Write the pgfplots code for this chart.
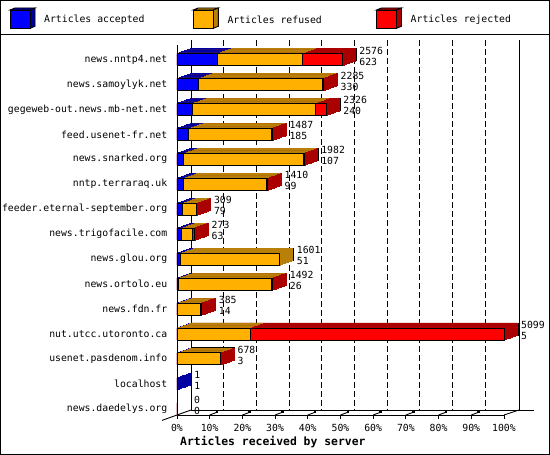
\documentclass[border=0pt]{standalone}
\usepackage{pgfplots}
\pgfplotsset{compat=1.18}
\usepackage{pgfplotstable}
\usepackage{fontspec}
\setmainfont{DejaVu Sans Mono}
\newcommand\lab{\fontsize{9.8pt}{11pt}\selectfont}
\newcommand\ttl{\fontsize{11.4pt}{13pt}\selectfont\bfseries}
\definecolor{accF}{RGB}{0,0,255}
\definecolor{accD}{RGB}{0,0,160}
\definecolor{refF}{RGB}{255,176,0}
\definecolor{refD}{RGB}{184,128,8}
\definecolor{rejF}{RGB}{255,0,0}
\definecolor{rejD}{RGB}{170,0,0}
% row: 0 = top; acc = accepted, ref = refused, rej = rejected, tot = offered
\pgfplotstableread{
row acc ref rej tot
0 623 1337 616 2576
1 330 1935 20 2285
2 240 1923 163 2326
3 185 1281 21 1487
4 107 1863 12 1982
5 99 1301 10 1410
6 79 220 10 309
7 63 185 25 273
8 51 1550 0 1601
9 26 1451 15 1492
10 14 356 15 385
11 5 1144 3950 5099
12 3 667 8 678
13 1 0 0 1
14 0 0 0 0
}\data
\pgfplotsset{
  base/.style={scale only axis, width=327pt, height=370pt,
    xmin=0, xmax=5099, ymin=-0.581, ymax=14.248, y dir=reverse,
    anchor=south west, clip=false},
  bars/.style={base, xbar, bar shift=0pt, bar width=12pt, hide axis},
  dep/.style={restrict x to domain=0.5:100000},
  deprej/.style={restrict expr to domain={\thisrow{rej}}{0.5:100000}},
}
\begin{document}
\begin{tikzpicture}[x=1pt,y=1pt]
\path[use as bounding box] (0,0) rectangle (550,455);
\fill[white] (0,0) rectangle (550,455);
% back wall grid
\begin{axis}[base, at={(191pt,45pt)},
  axis line style={draw=none}, tick style={draw=none},
  xtick={509.9,1019.8,1529.7,2039.6,2549.5,3059.4,3569.3,4079.2,4589.1},
  xticklabel style={text opacity=0, opacity=0}, ytick=\empty,
  xmajorgrids, major grid style={black, line width=0.9pt, dash pattern=on 6pt off 3pt}]
\addplot[draw=none] coordinates {(0,0)};
\end{axis}
% wall and floor frame
\begin{scope}[line width=0.9pt]
\draw (191,45) -- (191,415);
\draw (519,45) -- (519,415);
\draw (191,45) -- (534,45);
\draw (162,34.6) -- (191,45);
\draw (504,40) -- (519,45);
\foreach \k in {1,...,9} {
  \draw ({177+32.7*\k},40) -- ({177+32.7*\k+8},43);
  \fill ({177+32.7*\k+6},41.6) rectangle +(2.6,2.6);
}
\end{scope}
% depth of the bars: back face, then intermediate layers
\begin{axis}[bars, at={(191pt,45pt)}]
\addplot[deprej, fill=rejD, draw=black, line width=0.9pt] table[x=tot, y=row]{\data};
\addplot[dep, fill=refD, draw=black, line width=0.9pt] table[x expr=\thisrow{acc}+\thisrow{ref}, y=row]{\data};
\addplot[dep, fill=accD, draw=black, line width=0.9pt] table[x=acc, y=row]{\data};
\end{axis}
\foreach \t in {0.94,0.88,0.82,0.76,0.7,0.64,0.58,0.52,0.46,0.4,0.34,0.28,0.22,0.16,0.1,0.04} {
\begin{axis}[bars, at={({177pt+14pt*\t},{40pt+5pt*\t})}]
\addplot[deprej, fill=rejD, draw=rejD, line width=0.8pt, xshift=0.5pt] table[x=tot, y=row]{\data};
\addplot[dep, fill=refD, draw=refD, line width=0.8pt] table[x expr=\thisrow{acc}+\thisrow{ref}, y=row]{\data};
\addplot[dep, fill=accD, draw=accD, line width=0.8pt] table[x=acc, y=row]{\data};
\end{axis}
}
% front faces, axes and labels
\begin{axis}[base, at={(177pt,40pt)}, xbar, bar shift=0pt, bar width=12pt,
  axis x line*=bottom, axis y line*=left,
  axis line style={-, line width=0.9pt},
  xtick={0,509.9,1019.8,1529.7,2039.6,2549.5,3059.4,3569.3,4079.2,4589.1,5099},
  xticklabels={0\%,10\%,20\%,30\%,40\%,50\%,60\%,70\%,80\%,90\%,100\%},
  ytick={0,...,14},
  yticklabels={news.nntp4.net,news.samoylyk.net,gegeweb-out.news.mb-net.net,feed.usenet-fr.net,news.snarked.org,nntp.terraraq.uk,feeder.eternal-september.org,news.trigofacile.com,news.glou.org,news.ortolo.eu,news.fdn.fr,nut.utcc.utoronto.ca,usenet.pasdenom.info,localhost,news.daedelys.org},
  tick align=outside, major tick length=4pt,
  ytick style={draw=none}, xtick style={black, line width=0.9pt},
  tick label style={font=\lab},
  xticklabel style={anchor=center, inner sep=0pt, yshift=-9pt},
  yticklabel style={anchor=east, inner sep=0pt, xshift=-5.5pt},
  xlabel={Articles received by server},
  xlabel style={font=\ttl, at={(axis description cs:0,0)}, anchor=west, inner sep=0pt, xshift=3pt, yshift=-27pt},
]
\addplot[fill=rejF, draw=black, line width=0.9pt] table[x=tot, y=row]{\data};
\addplot[fill=refF, draw=black, line width=0.9pt] table[x expr=\thisrow{acc}+\thisrow{ref}, y=row]{\data};
\addplot[fill=accF, draw=black, line width=0.9pt] table[x=acc, y=row]{\data};
\addplot[draw=none, fill=none, point meta=x,
  visualization depends on={\thisrow{acc} \as \acc},
  nodes near coords={\pgfmathprintnumber[fixed,precision=0,1000 sep={},assume math mode=true]{\pgfplotspointmeta}\\\pgfmathprintnumber[fixed,precision=0,1000 sep={},assume math mode=true]{\acc}},
  every node near coord/.append style={anchor=west, align=left, inner sep=0pt,
    xshift=17pt, yshift=3.5pt, font=\lab, text=black}]
  table[x=tot, y=row]{\data};
\end{axis}
% legend
\foreach \x/\cf/\cd/\txt in {10/accF/accD/{Articles accepted},193.3/refF/refD/{Articles refused},376.5/rejF/rejD/{Articles rejected}} {
  \filldraw[fill=\cd, draw=black, line width=0.9pt] (\x,445) -- (\x+5,447) -- (\x+25,447) -- (\x+20,445) -- cycle;
  \filldraw[fill=\cd, draw=black, line width=0.9pt] (\x+20,445) -- (\x+25,447) -- (\x+25,428.7) -- (\x+20,426.7) -- cycle;
  \filldraw[fill=\cf, draw=black, line width=0.9pt] (\x,426.7) rectangle (\x+20,445);
  \node[anchor=west, inner sep=0pt, font=\lab] at (\x+34,435) {\txt};
}
\draw[line width=1pt] (0,420) -- (550,420);
\draw[line width=1pt] (0.5,0.5) rectangle (549.5,454.5);
\end{tikzpicture}
\end{document}
